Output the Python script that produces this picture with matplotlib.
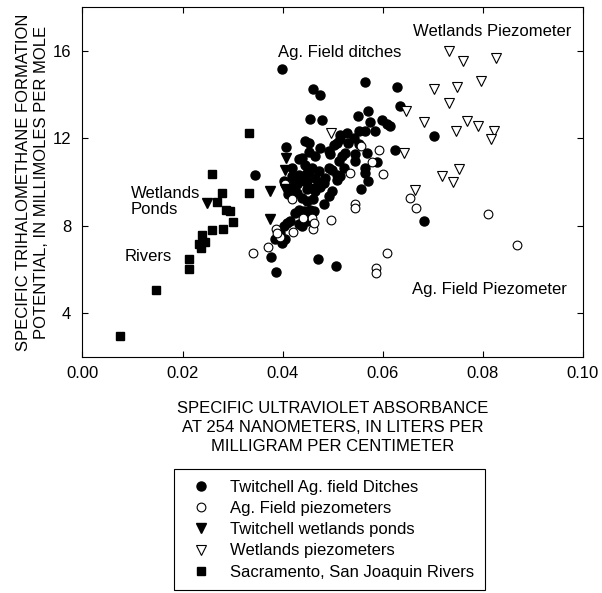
import matplotlib
matplotlib.use("Agg")
import matplotlib.pyplot as plt
import numpy as np

plt.rcParams['font.family'] = ['Liberation Sans', 'DejaVu Sans']
plt.rcParams['font.size'] = 12

# Twitchell Ag. field ditches (filled circles)
ditch_x = [0.0398, 0.0564, 0.0628, 0.0460, 0.0474, 0.0634, 0.0455, 0.0478, 0.0702, 0.0625,
           0.0682, 0.0470, 0.0506, 0.0387, 0.0570, 0.0550, 0.0598, 0.0608, 0.0614, 0.0575,
           0.0585, 0.0564, 0.0552, 0.0528, 0.0515, 0.0542, 0.0531, 0.0509, 0.0568, 0.0545,
           0.0545, 0.0518, 0.0512, 0.0522, 0.0508, 0.0565, 0.0588, 0.0570, 0.0556, 0.0445,
           0.0407, 0.0475, 0.0502, 0.0432, 0.0452, 0.0465, 0.0492, 0.0445, 0.0458, 0.0472,
           0.0418, 0.0432, 0.0492, 0.0465, 0.0418, 0.0345, 0.0415, 0.0428, 0.0432, 0.0425,
           0.0408, 0.0402, 0.0395, 0.0405, 0.0385, 0.0376, 0.0402, 0.0448, 0.0471, 0.0448,
           0.0465, 0.0508, 0.0498, 0.0492, 0.0482, 0.0452, 0.0462, 0.0415, 0.0432, 0.0438,
           0.0448, 0.0392, 0.0398, 0.0495, 0.0525, 0.0438, 0.0455, 0.0482, 0.0498, 0.0515,
           0.0422, 0.0442, 0.0552, 0.0514, 0.0452, 0.0448, 0.0442, 0.0565, 0.0448, 0.0455,
           0.0438, 0.0428, 0.0475, 0.0485, 0.0411, 0.0461]
ditch_y = [15.18, 14.58, 14.35, 14.26, 14.00, 13.49, 12.89, 12.82, 12.09, 11.45,
           8.21, 6.46, 6.16, 5.88, 13.23, 13.00, 12.82, 12.67, 12.58, 12.73,
           12.35, 12.32, 12.32, 12.25, 12.17, 12.02, 11.79, 11.79, 11.33, 11.26,
           10.95, 11.18, 10.95, 10.65, 10.34, 10.39, 10.92, 10.04, 9.69, 11.90,
           11.58, 11.56, 11.71, 11.03, 11.38, 11.18, 11.41, 10.80, 10.65, 10.49,
           10.65, 10.34, 10.65, 10.19, 10.27, 10.31, 9.74, 9.89, 8.74, 8.59,
           8.14, 7.98, 7.68, 7.37, 7.37, 6.58, 10.04, 10.04, 9.98, 9.66,
           9.58, 10.11, 9.58, 9.35, 8.97, 8.59, 8.67, 8.21, 8.06, 7.98,
           8.21, 7.53, 7.22, 11.26, 11.33, 11.11, 10.57, 9.96, 10.57, 10.27,
           10.11, 8.67, 11.76, 11.97, 11.79, 10.42, 10.04, 10.65, 9.12, 8.74,
           9.28, 9.51, 9.75, 10.20, 9.43, 9.20]

# Ag. field piezometers (open circles)
agpiez_x = [0.0868, 0.0810, 0.0667, 0.0655, 0.0608, 0.0587, 0.0587, 0.0545, 0.0545, 0.0497,
            0.0600, 0.0578, 0.0593, 0.0556, 0.0534, 0.0458, 0.0460, 0.0440, 0.0420, 0.0418,
            0.0404, 0.0395, 0.0387, 0.0388, 0.0340, 0.0371, 0.0462]
agpiez_y = [7.10, 8.52, 8.79, 9.28, 6.74, 6.04, 5.85, 8.97, 8.82, 8.26,
            10.37, 10.92, 11.48, 11.63, 10.42, 8.37, 7.86, 8.33, 7.73, 9.20,
            9.93, 7.50, 7.83, 7.68, 6.74, 7.01, 8.14]

# Twitchell wetlands ponds (filled triangles)
pond_x = [0.0248, 0.0375, 0.0375, 0.0407, 0.0405, 0.0405, 0.0465]
pond_y = [9.03, 9.58, 8.30, 11.11, 10.53, 9.66, 9.70]

# Wetlands piezometers (open triangles)
wetpiez_x = [0.0732, 0.0760, 0.0827, 0.0797, 0.0748, 0.0702, 0.0733, 0.0646, 0.0682, 0.0768,
             0.0790, 0.0746, 0.0822, 0.0817, 0.0497, 0.0642, 0.0752, 0.0718, 0.0740, 0.0665]
wetpiez_y = [16.00, 15.56, 15.70, 14.63, 14.37, 14.26, 13.62, 13.23, 12.73, 12.81,
             12.55, 12.32, 12.35, 11.97, 12.25, 11.33, 10.60, 10.27, 9.99, 9.63]

# Sacramento, San Joaquin rivers (filled squares)
river_x = [0.0332, 0.0258, 0.0332, 0.0278, 0.0268, 0.0287, 0.0294, 0.0300, 0.0259, 0.0280,
           0.0238, 0.0245, 0.0233, 0.0237, 0.0212, 0.0212, 0.0147, 0.0075]
river_y = [12.25, 10.37, 9.51, 9.51, 9.08, 8.70, 8.65, 8.18, 7.80, 7.83,
           7.56, 7.27, 7.18, 7.00, 6.49, 6.00, 5.05, 2.93]

fig = plt.figure(figsize=(6.02, 5.93), dpi=100)
ax = fig.add_axes([0.137, 0.3985, 0.8314, 0.5892])

ax.plot(ditch_x, ditch_y, 'o', color='black', markersize=6.5, linestyle='none',
        label='Twitchell Ag. field Ditches')
ax.plot(agpiez_x, agpiez_y, 'o', mfc='white', mec='black', mew=0.8, markersize=6.3,
        linestyle='none', label='Ag. Field piezometers')
ax.plot(pond_x, pond_y, 'v', color='black', markersize=6.5, linestyle='none',
        label='Twitchell wetlands ponds')
ax.plot(wetpiez_x, wetpiez_y, 'v', mfc='white', mec='black', mew=0.8, markersize=6.5,
        linestyle='none', label='Wetlands piezometers')
ax.plot(river_x, river_y, 's', color='black', markersize=5.5, linestyle='none',
        label='Sacramento, San Joaquin Rivers')

ax.set_xlim(0, 0.1)
ax.set_ylim(2, 18)
ax.set_xticks([0.0, 0.02, 0.04, 0.06, 0.08, 0.10])
ax.set_xticklabels(['0.00', '0.02', '0.04', '0.06', '0.08', '0.10'])
ax.set_yticks([4, 8, 12, 16])
ax.tick_params(direction='in', length=4, width=0.8, top=True, right=True)
ax.tick_params(axis='x', pad=7)
ax.tick_params(axis='y', pad=8)
for s in ax.spines.values():
    s.set_linewidth(0.8)

ax.set_xlabel('SPECIFIC ULTRAVIOLET ABSORBANCE\nAT 254 NANOMETERS, IN LITERS PER\nMILLIGRAM PER CENTIMETER',
              labelpad=14, linespacing=1.35)
ax.set_ylabel('SPECIFIC TRIHALOMETHANE FORMATION\nPOTENTIAL, IN MILLIMOLES PER MOLE',
              labelpad=3, linespacing=1.25)

ax.text(0.0391, 15.91, 'Ag. Field ditches', ha='left', va='center')
ax.text(0.0660, 16.89, 'Wetlands Piezometer', ha='left', va='center')
ax.text(0.0658, 5.09, 'Ag. Field Piezometer', ha='left', va='center')
ax.text(0.0096, 9.09, 'Wetlands\nPonds', ha='left', va='center', linespacing=1.1)
ax.text(0.0084, 6.61, 'Rivers', ha='left', va='center')

leg = fig.legend(loc='upper left', bbox_to_anchor=(0.289, 0.209), borderaxespad=0,
                 frameon=True, fancybox=False, edgecolor='black', framealpha=1,
                 borderpad=0.65, labelspacing=0.37, handlelength=2.0, handletextpad=0.7,
                 numpoints=1)
leg.get_frame().set_linewidth(0.8)

fig.savefig('out.png', dpi=100)
